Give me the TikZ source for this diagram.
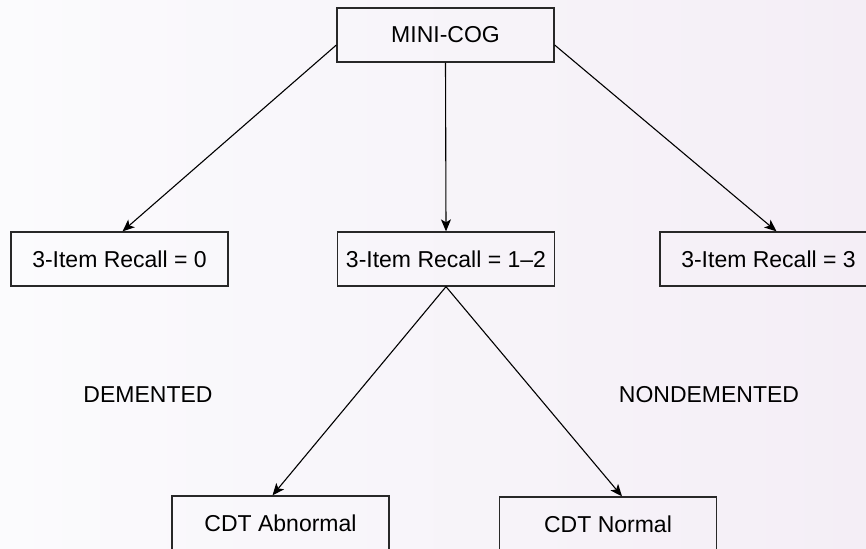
\documentclass[tikz,border=0pt]{standalone}
\usepackage{fontspec}
\setmainfont{Liberation Sans}
\usepackage{tikz}
\usetikzlibrary{arrows.meta}
\definecolor{bgleft}{RGB}{251,251,253}
\definecolor{bgright}{RGB}{244,238,246}
\definecolor{edge}{RGB}{40,40,40}

\tikzset{
    box/.style={draw=edge, line width=0.65pt, minimum width=108.5pt, minimum height=27pt, inner sep=0pt, font=\fontsize{11.5}{13}\selectfont},
    tag/.style={inner sep=0pt, font=\fontsize{11.5}{13}\selectfont},
    link/.style={draw=black, line width=0.55pt, -{Stealth[length=6pt,width=5pt,inset=1.5pt]}}
}

\begin{document}
\begin{tikzpicture}[x=0.5pt, y=-0.5pt]
            \useasboundingbox[left color=bgleft, right color=bgright] (0,0) rectangle (866,548);
            \clip (0,0) rectangle (866,548);

            \node[box] (mini) at (445.5,35) {MINI-COG};
            \node[box] (rzero) at (119.5,259) {3-Item Recall = 0};
            \node[box] (rmid) at (446,259) {3-Item Recall = 1\textendash2};
            \node[box] (rthree) at (768.5,259) {3-Item Recall = 3};
            \node[box] (cdtab) at (280.5,523) {CDT Abnormal};
            \node[box] (cdtnorm) at (608,524) {CDT Normal};

            \node[tag] (dem) at (148,395) {DEMENTED};
            \node[tag] (nondem) at (709,395) {NONDEMENTED};

            \draw[link] ([yshift=-5pt]mini.west) -- ([xshift=1.5pt]rzero.north);
            \draw[link] (mini.south) -- (rmid.north);
            \draw[link] ([yshift=-5pt]mini.east) -- ([xshift=4pt]rthree.north);
            \draw[link] (rmid.south) -- ([xshift=-4pt]cdtab.north);
            \draw[link] (rmid.south) -- ([xshift=7pt]cdtnorm.north);
        \end{tikzpicture}
\end{document}
